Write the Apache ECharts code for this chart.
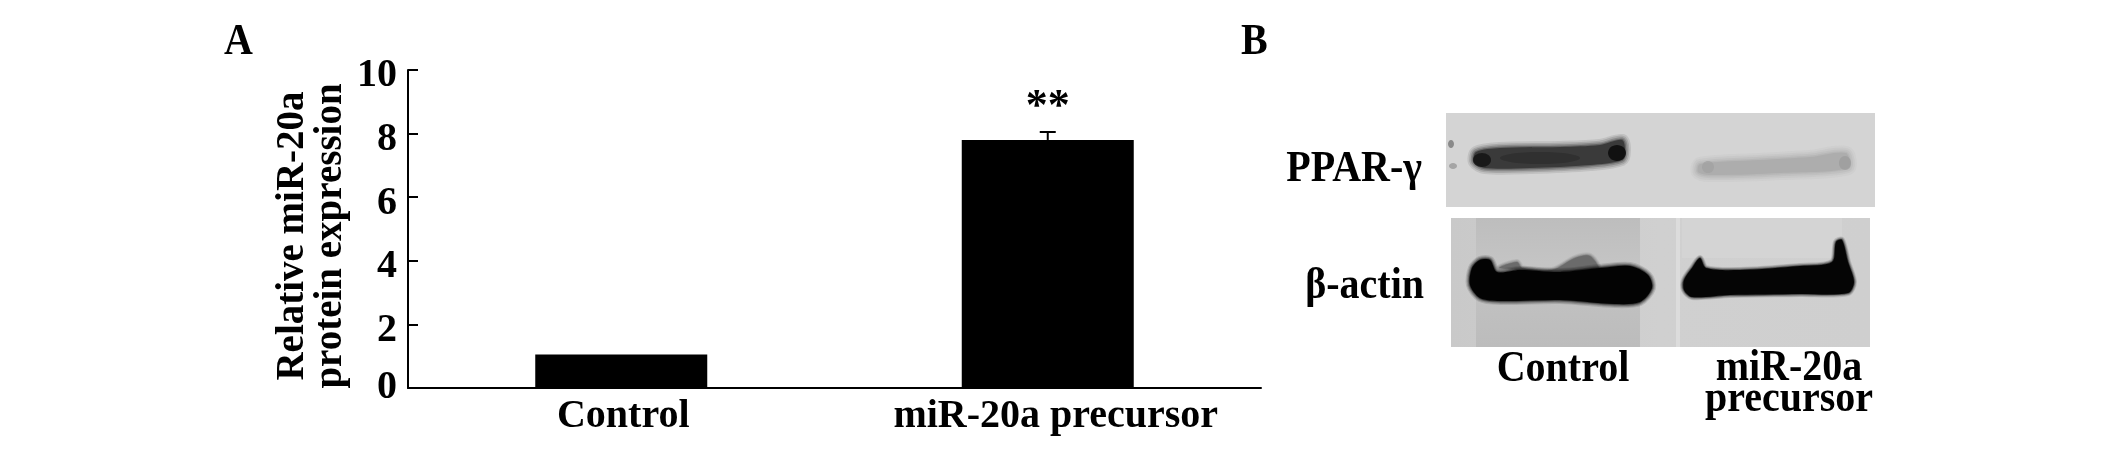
<!DOCTYPE html>
<html><head><meta charset="utf-8">
<style>html,body{margin:0;padding:0;background:#fff}#c{width:2126px;height:452px}</style>
<script src="https://cdn.jsdelivr.net/npm/echarts@6/dist/echarts.min.js"></script></head>
<body><div id="c"></div>
<script>
const categories = ['Control', 'miR-20a precursor'];
const meanValues = [1.05, 7.8];
const errorUpper = [1.05, 8.05];
const significance = ['', '**'];
const yTicks = [0, 2, 4, 6, 8, 10];
const yAxisName = 'Relative miR-20a\nprotein expression';
const F = '"Liberation Serif"';

// soft-edged shape: the same outline stroked several times, widest and faintest first
function soft(points, fill, spread, z) {
  const layers = [[1,.12],[.72,.18],[.45,.28],[.2,.45],[0,1]];
  return layers.map(([k,o]) => ({type:'polygon', z:z||5, silent:true, shape:{points, smooth:0.3},
    style:{fill:k===0?fill:'none', stroke:k===0?'none':fill, lineWidth:k*spread, lineJoin:'round', opacity:o}}));
}
function blob(cx, cy, rx, ry, fill, o) {
  return {type:'ellipse', z:6, silent:true, shape:{cx,cy,rx,ry}, style:{fill, opacity:o}};
}
function txt(x, y, text, size, align) {
  return {type:'text', x, y, z:10, scaleY:1.12, style:{text, fill:'#000', font:'bold '+size+'px '+F, textAlign:align||'left', textVerticalAlign:'bottom'}};
}
const grad = (x,y,x2,y2,a) => ({type:'linear',x,y,x2,y2,colorStops:a.map(([offset,color])=>({offset,color}))});
const graphic = [
  txt(224,65,'A',40), txt(1241,65,'B',40),
  txt(1422,192,'PPAR-γ',40,'right'), txt(1424,309,'β-actin',40,'right'),
  txt(1563,392,'Control',40,'center'), txt(1789,391,'miR-20a',40,'center'), txt(1789,422,'precursor',40,'center'),
  // PPAR-γ blot
  {type:'rect', z:2, shape:{x:1446,y:113,width:429,height:94}, style:{fill:'#d4d4d4'}},
  ...soft([[1476,152],[1500,148],[1560,147],[1600,145],[1622,140],[1625,150],[1622,160],[1590,165],[1530,168],[1485,168],[1474,162]],'#3a3a3a',12),
  blob(1482,160,9,7,'#111',.8), blob(1617,153,9,8,'#0a0a0a',.85), blob(1540,158,40,6,'#2a2a2a',.6),
  ...soft([[1700,164],[1760,160],[1810,157],[1846,153],[1848,168],[1780,173],[1710,175],[1698,172]],'#adadad',14),
  blob(1845,163,6,7,'#9a9a9a',.7), blob(1708,167,6,6,'#a0a0a0',.7),
  blob(1451,144,3,4,'#777',.8), blob(1453,166,4,3,'#999',.8),
  // β-actin blot
  {type:'rect', z:2, shape:{x:1451,y:218,width:419,height:129}, style:{fill:grad(0,0,1,0,[[0,'#c9c9c9'],[.5,'#d0d0d0'],[1,'#cfcfcf']])}},
  {type:'rect', z:3, shape:{x:1476,y:218,width:164,height:129}, style:{fill:grad(0,0,0,1,[[0,'#bdbdbd'],[.35,'#c4c4c4'],[1,'#bcbcbc']])}},
  {type:'rect', z:3, shape:{x:1676,y:218,width:4,height:129}, style:{fill:'#dcdcdc'}},
  {type:'rect', z:3, shape:{x:1682,y:218,width:160,height:40}, style:{fill:'#d6d6d6',opacity:.7}},
  ...soft([[1472,268],[1480,260],[1490,260],[1497,272],[1520,270],[1560,272],[1600,268],[1630,266],[1648,275],[1652,288],[1640,302],[1615,304],[1560,300],[1500,301],[1480,298],[1470,285]],'#030303',8),
  ...soft([[1500,268],[1517,262],[1522,268],[1552,270],[1575,258],[1590,256],[1598,270]],'#6b6b6b',6,4),
  ...soft([[1684,280],[1692,268],[1700,258],[1706,268],[1740,270],[1800,266],[1832,262],[1836,242],[1842,240],[1848,262],[1854,282],[1848,293],[1800,294],[1730,295],[1692,297],[1684,290]],'#050505',6)
];

const chart = echarts.init(document.getElementById('c'));
chart.setOption({
  animation:false, backgroundColor:'#fff',
  grid:{left:408,right:865,top:70,bottom:64},
  xAxis:{type:'category',data:categories,
    axisLine:{lineStyle:{color:'#000',width:2}},
    axisTick:{inside:true,length:10,lineStyle:{color:'#000',width:2}},
    axisLabel:{color:'#000',margin:9,
      formatter:(v,i)=>i===0?'{a|'+v+'}':'{b|'+v+'}',
      rich:{a:{fontFamily:F,fontWeight:'bold',fontSize:40,padding:[0,0,0,4]},
            b:{fontFamily:F,fontWeight:'bold',fontSize:40,padding:[0,0,0,16]}}}},
  yAxis:{type:'value',min:0,max:10,interval:yTicks[1]-yTicks[0],
    name:yAxisName,nameLocation:'middle',nameGap:58,nameRotate:90,
    nameTextStyle:{color:'#000',fontFamily:F,fontWeight:'bold',fontSize:39,lineHeight:38,padding:[0,14,0,0]},
    axisLine:{show:true,lineStyle:{color:'#000',width:2}},
    axisTick:{show:true,inside:true,length:10,lineStyle:{color:'#000',width:2}},
    splitLine:{show:false},
    axisLabel:{color:'#000',margin:11,
      formatter:v=>v===0?'{z|0}':'{n|'+v+'}',
      rich:{n:{fontFamily:F,fontWeight:'bold',fontSize:40,padding:[12,0,0,0]},
            z:{fontFamily:F,fontWeight:'bold',fontSize:40}}}},
  series:[
    {type:'bar',data:meanValues,barWidth:172,itemStyle:{color:'#000'},
     label:{show:true,position:'top',distance:10,color:'#000',fontFamily:F,fontWeight:'bold',fontSize:44,
       formatter:p=>significance[p.dataIndex]}},
    {type:'custom',data:categories.map((c,i)=>[i,meanValues[i],errorUpper[i]]),z:3,
     encode:{x:0,y:2},
     renderItem:(params,api)=>{
       const lo=api.coord([api.value(0),api.value(1)]), hi=api.coord([api.value(0),api.value(2)]);
       if(api.value(2)<=api.value(1)) return {type:'group',children:[]};
       const st={stroke:'#000',lineWidth:2};
       return {type:'group',children:[
         {type:'line',shape:{x1:lo[0],y1:lo[1],x2:hi[0],y2:hi[1]},style:st},
         {type:'line',shape:{x1:hi[0]-8,y1:hi[1],x2:hi[0]+8,y2:hi[1]},style:st}]};
     }}
  ],
  graphic
});
</script></body></html>
